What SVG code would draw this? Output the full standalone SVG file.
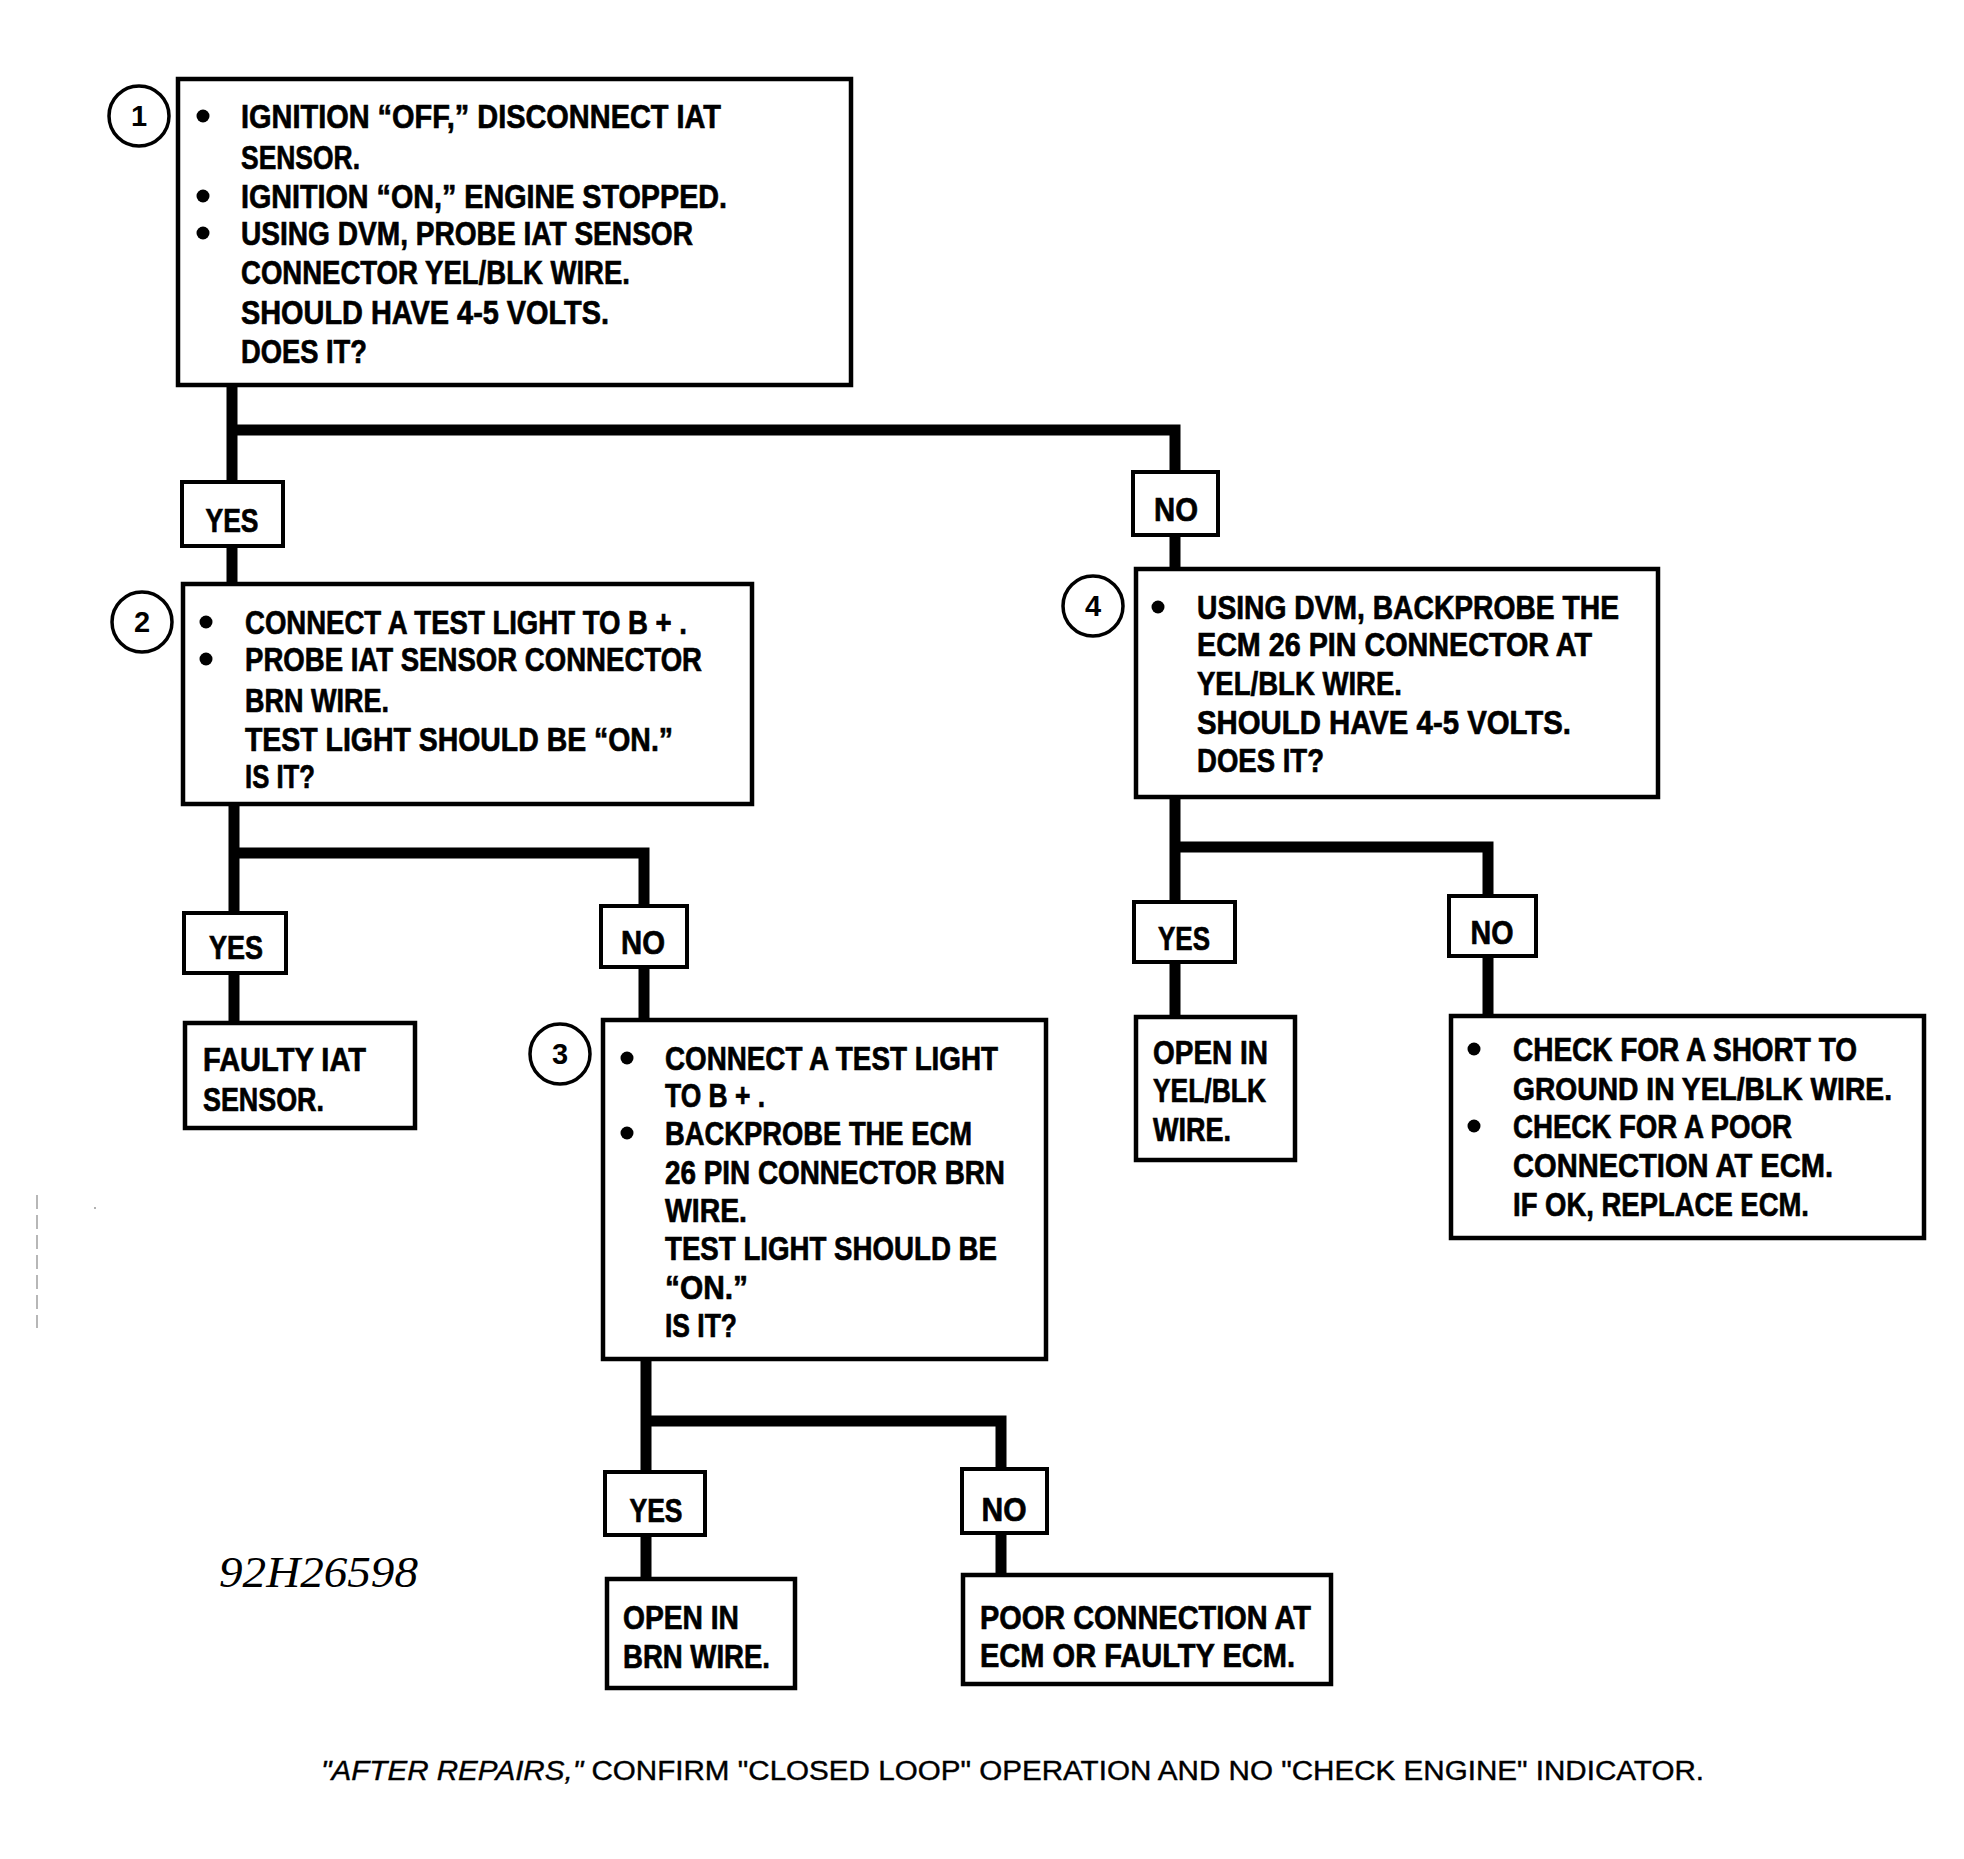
<svg xmlns="http://www.w3.org/2000/svg" width="1964" height="1859" viewBox="0 0 1964 1859">
<style>
.bg{fill:#fff}
.box{fill:#fff;stroke:#000;stroke-width:4.5}
.lbl{fill:#fff;stroke:#000;stroke-width:4}
.num{fill:#fff;stroke:#000;stroke-width:3.5}
.conn{fill:none;stroke:#000;stroke-width:11;stroke-linecap:butt;stroke-linejoin:miter}
.t{font-family:"Liberation Sans",Arial,sans-serif;font-weight:bold;font-size:34px;fill:#000;stroke:#000;stroke-width:0.7}
.s{font-size:32px}
.c{text-anchor:middle}
.n{font-family:"Liberation Sans",Arial,sans-serif;font-weight:bold;font-size:29px;fill:#000;text-anchor:middle}
.bul{fill:#000}
.code{font-family:"Liberation Serif","Times New Roman",serif;font-style:italic;font-size:44px;fill:#000}
.foot{font-family:"Liberation Sans",Arial,sans-serif;font-size:27px;fill:#000;stroke:#000;stroke-width:0.4}
</style>
<rect class="bg" x="0" y="0" width="1964" height="1859"/>

<g id="connectors">
<path class="conn" d="M232 385 V584"/>
<path class="conn" d="M232 430 H1175 V569"/>
<path class="conn" d="M234 804 V1023"/>
<path class="conn" d="M234 853 H644 V1020"/>
<path class="conn" d="M646 1359 V1579"/>
<path class="conn" d="M646 1421 H1001 V1575"/>
<path class="conn" d="M1175 797 V1017"/>
<path class="conn" d="M1175 847 H1488 V1016"/>
</g>

<g id="step1">
<rect class="box" x="178" y="79" width="673" height="306"/>
<circle class="num" cx="139" cy="116" r="30"/>
<text class="n" x="139" y="126">1</text>
<circle class="bul" cx="203" cy="116" r="6.5"/>
<circle class="bul" cx="203" cy="196" r="6.5"/>
<circle class="bul" cx="203" cy="233" r="6.5"/>
<text class="t" x="241" y="128" textLength="480" lengthAdjust="spacingAndGlyphs">IGNITION “OFF,” DISCONNECT IAT</text>
<text class="t" x="241" y="169" textLength="119" lengthAdjust="spacingAndGlyphs">SENSOR.</text>
<text class="t" x="241" y="208" textLength="486" lengthAdjust="spacingAndGlyphs">IGNITION “ON,” ENGINE STOPPED.</text>
<text class="t" x="241" y="245" textLength="452" lengthAdjust="spacingAndGlyphs">USING DVM, PROBE IAT SENSOR</text>
<text class="t" x="241" y="284" textLength="389" lengthAdjust="spacingAndGlyphs">CONNECTOR YEL/BLK WIRE.</text>
<text class="t" x="241" y="324" textLength="368" lengthAdjust="spacingAndGlyphs">SHOULD HAVE 4-5 VOLTS.</text>
<text class="t" x="241" y="363" textLength="126" lengthAdjust="spacingAndGlyphs">DOES IT?</text>
</g>

<g id="yes1">
<rect class="lbl" x="182" y="482" width="101" height="64"/>
<text class="t c" x="232" y="532" textLength="53" lengthAdjust="spacingAndGlyphs">YES</text>
</g>

<g id="no1">
<rect class="lbl" x="1133" y="472" width="85" height="63"/>
<text class="t c" x="1176" y="521" textLength="44" lengthAdjust="spacingAndGlyphs">NO</text>
</g>

<g id="step2">
<rect class="box" x="183" y="584" width="569" height="220"/>
<circle class="num" cx="142" cy="622" r="30"/>
<text class="n" x="142" y="632">2</text>
<circle class="bul" cx="206" cy="622" r="6.5"/>
<circle class="bul" cx="206" cy="659" r="6.5"/>
<text class="t" x="245" y="634" textLength="442" lengthAdjust="spacingAndGlyphs">CONNECT A TEST LIGHT TO B + .</text>
<text class="t" x="245" y="671" textLength="457" lengthAdjust="spacingAndGlyphs">PROBE IAT SENSOR CONNECTOR</text>
<text class="t" x="245" y="712" textLength="144" lengthAdjust="spacingAndGlyphs">BRN WIRE.</text>
<text class="t" x="245" y="751" textLength="428" lengthAdjust="spacingAndGlyphs">TEST LIGHT SHOULD BE “ON.”</text>
<text class="t" x="245" y="788" textLength="70" lengthAdjust="spacingAndGlyphs">IS IT?</text>
</g>

<g id="yes2">
<rect class="lbl" x="184" y="913" width="102" height="60"/>
<text class="t c" x="236" y="959" textLength="54" lengthAdjust="spacingAndGlyphs">YES</text>
</g>

<g id="no2">
<rect class="lbl" x="601" y="906" width="86" height="61"/>
<text class="t c" x="643" y="954" textLength="44" lengthAdjust="spacingAndGlyphs">NO</text>
</g>

<g id="faulty-iat">
<rect class="box" x="185" y="1023" width="230" height="105"/>
<text class="t" x="203" y="1071" textLength="163" lengthAdjust="spacingAndGlyphs">FAULTY IAT</text>
<text class="t" x="203" y="1111" textLength="121" lengthAdjust="spacingAndGlyphs">SENSOR.</text>
</g>

<g id="step3">
<rect class="box" x="603" y="1020" width="443" height="339"/>
<circle class="num" cx="560" cy="1054" r="30"/>
<text class="n" x="560" y="1064">3</text>
<circle class="bul" cx="627" cy="1058" r="6.5"/>
<circle class="bul" cx="627" cy="1133" r="6.5"/>
<text class="t" x="665" y="1070" textLength="333" lengthAdjust="spacingAndGlyphs">CONNECT A TEST LIGHT</text>
<text class="t" x="665" y="1107" textLength="100" lengthAdjust="spacingAndGlyphs">TO B + .</text>
<text class="t" x="665" y="1145" textLength="307" lengthAdjust="spacingAndGlyphs">BACKPROBE THE ECM</text>
<text class="t" x="665" y="1184" textLength="340" lengthAdjust="spacingAndGlyphs">26 PIN CONNECTOR BRN</text>
<text class="t" x="665" y="1222" textLength="82" lengthAdjust="spacingAndGlyphs">WIRE.</text>
<text class="t" x="665" y="1260" textLength="332" lengthAdjust="spacingAndGlyphs">TEST LIGHT SHOULD BE</text>
<text class="t" x="665" y="1299" textLength="83" lengthAdjust="spacingAndGlyphs">“ON.”</text>
<text class="t" x="665" y="1337" textLength="72" lengthAdjust="spacingAndGlyphs">IS IT?</text>
</g>

<g id="yes3">
<rect class="lbl" x="605" y="1472" width="100" height="63"/>
<text class="t c" x="656" y="1522" textLength="53" lengthAdjust="spacingAndGlyphs">YES</text>
</g>

<g id="no3">
<rect class="lbl" x="962" y="1469" width="85" height="64"/>
<text class="t c" x="1004" y="1521" textLength="45" lengthAdjust="spacingAndGlyphs">NO</text>
</g>

<g id="open-brn">
<rect class="box" x="607" y="1579" width="188" height="109"/>
<text class="t" x="623" y="1629" textLength="116" lengthAdjust="spacingAndGlyphs">OPEN IN</text>
<text class="t" x="623" y="1668" textLength="147" lengthAdjust="spacingAndGlyphs">BRN WIRE.</text>
</g>

<g id="poor-connection">
<rect class="box" x="963" y="1575" width="368" height="109"/>
<text class="t" x="980" y="1629" textLength="331" lengthAdjust="spacingAndGlyphs">POOR CONNECTION AT</text>
<text class="t" x="980" y="1667" textLength="315" lengthAdjust="spacingAndGlyphs">ECM OR FAULTY ECM.</text>
</g>

<g id="step4">
<rect class="box" x="1136" y="569" width="522" height="228"/>
<circle class="num" cx="1093" cy="606" r="30"/>
<text class="n" x="1093" y="616">4</text>
<circle class="bul" cx="1158" cy="607" r="6.5"/>
<text class="t" x="1197" y="619" textLength="422" lengthAdjust="spacingAndGlyphs">USING DVM, BACKPROBE THE</text>
<text class="t" x="1197" y="656" textLength="395" lengthAdjust="spacingAndGlyphs">ECM 26 PIN CONNECTOR AT</text>
<text class="t" x="1197" y="695" textLength="205" lengthAdjust="spacingAndGlyphs">YEL/BLK WIRE.</text>
<text class="t" x="1197" y="734" textLength="374" lengthAdjust="spacingAndGlyphs">SHOULD HAVE 4-5 VOLTS.</text>
<text class="t" x="1197" y="772" textLength="127" lengthAdjust="spacingAndGlyphs">DOES IT?</text>
</g>

<g id="yes4">
<rect class="lbl" x="1134" y="902" width="101" height="60"/>
<text class="t c" x="1184" y="950" textLength="52" lengthAdjust="spacingAndGlyphs">YES</text>
</g>

<g id="no4">
<rect class="lbl" x="1449" y="896" width="87" height="60"/>
<text class="t c" x="1492" y="944" textLength="43" lengthAdjust="spacingAndGlyphs">NO</text>
</g>

<g id="open-yel-blk">
<rect class="box" x="1136" y="1017" width="159" height="143"/>
<text class="t" x="1153" y="1064" textLength="115" lengthAdjust="spacingAndGlyphs">OPEN IN</text>
<text class="t" x="1153" y="1102" textLength="113" lengthAdjust="spacingAndGlyphs">YEL/BLK</text>
<text class="t" x="1153" y="1141" textLength="78" lengthAdjust="spacingAndGlyphs">WIRE.</text>
</g>

<g id="check-short">
<rect class="box" x="1451" y="1016" width="473" height="222"/>
<circle class="bul" cx="1474" cy="1049" r="6.5"/>
<circle class="bul" cx="1474" cy="1126" r="6.5"/>
<text class="t" x="1513" y="1061" textLength="344" lengthAdjust="spacingAndGlyphs">CHECK FOR A SHORT TO</text>
<text class="t s" x="1513" y="1100" textLength="379" lengthAdjust="spacingAndGlyphs">GROUND IN YEL/BLK WIRE.</text>
<text class="t" x="1513" y="1138" textLength="279" lengthAdjust="spacingAndGlyphs">CHECK FOR A POOR</text>
<text class="t" x="1513" y="1177" textLength="320" lengthAdjust="spacingAndGlyphs">CONNECTION AT ECM.</text>
<text class="t" x="1513" y="1216" textLength="296" lengthAdjust="spacingAndGlyphs">IF OK, REPLACE ECM.</text>
</g>

<line x1="37" y1="1195" x2="37" y2="1328" stroke="#888" stroke-width="1.2" stroke-dasharray="14 6"/>
<circle cx="95" cy="1208" r="1" fill="#999"/>

<text class="code" x="219" y="1587" textLength="199" lengthAdjust="spacingAndGlyphs">92H26598</text>

<text class="foot" x="321" y="1780" textLength="1383" lengthAdjust="spacingAndGlyphs"><tspan font-style="italic">"AFTER REPAIRS,"</tspan> CONFIRM "CLOSED LOOP" OPERATION AND NO "CHECK ENGINE" INDICATOR.</text>
</svg>
